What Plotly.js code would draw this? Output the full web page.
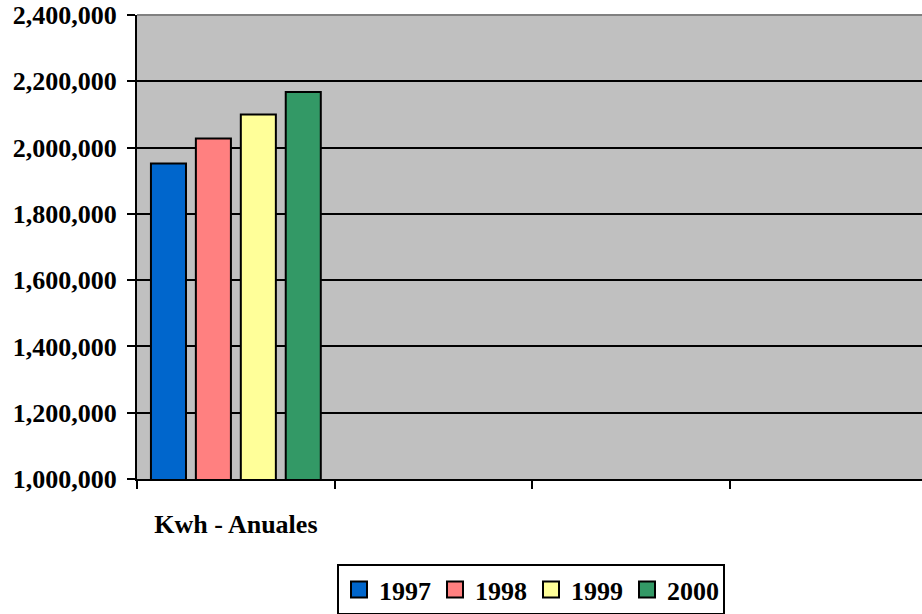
<!DOCTYPE html>
<html>
<head>
<meta charset="utf-8">
<script src="https://cdn.plot.ly/plotly-3.0.1.min.js"></script>
<style>html,body{margin:0;padding:0;background:#fff;}#chart{width:922px;height:614px;}</style>
</head>
<body>
<div id="chart"></div>
<script>
const categories = ["Kwh - Anuales", " ", "  ", "   "];
const seriesNames = ["1997", "1998", "1999", "2000"];
const seriesValues = [[1952000], [2027000], [2100000], [2168000]];
const seriesColors = ["#0066CC", "#FF8080", "#FFFF99", "#339966"];
const yTicks = [1000000, 1200000, 1400000, 1600000, 1800000, 2000000, 2200000, 2400000];

const fam = "Liberation Serif, Times New Roman, serif";
const font = {family: fam, size: 26, color: "#000", weight: 700};

const traces = seriesNames.map((name, i) => ({
  type: "bar",
  name: name,
  x: [categories[0]],
  y: seriesValues[i],
  marker: {color: seriesColors[i], line: {color: "#000", width: 2}},
  showlegend: false,
  hoverinfo: "none"
}));
seriesNames.forEach((name, i) => traces.push({
  type: "scatter", mode: "markers", name: name,
  x: [null], y: [null],
  marker: {symbol: "square", size: 16, color: seriesColors[i], line: {color: "#000", width: 2}},
  showlegend: true, hoverinfo: "none"
}));
traces.push({
  type: "scatter", mode: "markers", x: categories, y: categories.map(() => null),
  showlegend: false, hoverinfo: "none"
});

const layout = {
  width: 922, height: 614,
  margin: {l: 137, r: 0, t: 15, b: 135},
  paper_bgcolor: "#fff",
  plot_bgcolor: "#C0C0C0",
  font: font,
  barmode: "group",
  bargap: 0.091,
  bargroupgap: 0.22,
  showlegend: true,
  legend: {
    orientation: "h",
    xref: "container", yref: "container",
    x: 531 / 922, xanchor: "center",
    y: (614 - 564) / 614, yanchor: "top",
    bordercolor: "#000", borderwidth: 2, bgcolor: "#fff",
    font: {family: fam, size: 26, color: "#000", weight: 700},
    itemwidth: 30, tracegroupgap: 0,
    entrywidth: 51
  },
  xaxis: {
    type: "category",
    categoryorder: "array", categoryarray: categories,
    range: [-0.5, 3.47],
    tickson: "boundaries",
    ticks: "outside", ticklen: 8, tickwidth: 2, tickcolor: "#000",
    showline: true, linecolor: "#000", linewidth: 2,
    showgrid: false, zeroline: false,
    ticklabelstandoff: 21,
    tickfont: {family: fam, size: 26, color: "#000", weight: 700}
  },
  yaxis: {
    range: [1000000, 2400000],
    tickvals: yTicks,
    tickformat: ",",
    ticks: "outside", ticklen: 8, tickwidth: 2, tickcolor: "#000",
    showline: true, linecolor: "#000", linewidth: 2,
    showgrid: true, gridcolor: "#000", gridwidth: 2,
    zeroline: false,
    ticklabelstandoff: 5,
    tickfont: {family: fam, size: 26, color: "#000", weight: 700}
  },
  shapes: [{
    type: "line", xref: "paper", yref: "paper", x0: 0, x1: 1, y0: 1, y1: 1,
    line: {color: "#808080", width: 2}, layer: "above"
  }]
};

Plotly.newPlot("chart", traces, layout, {staticPlot: true, displayModeBar: false});
</script>
</body>
</html>
